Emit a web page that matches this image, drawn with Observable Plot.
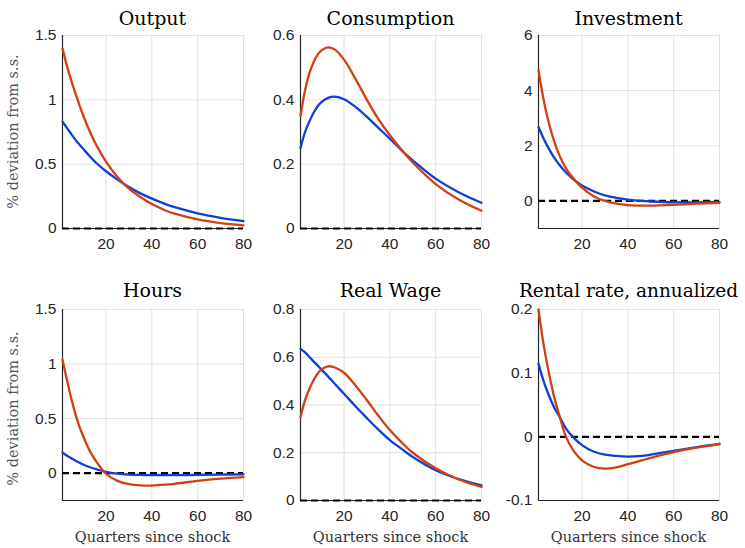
<!DOCTYPE html>
<html>
<head>
<meta charset="utf-8">
<script src="https://cdn.jsdelivr.net/npm/d3@7"></script>
<script src="https://cdn.jsdelivr.net/npm/@observablehq/plot@0.6"></script>
<style>
  html, body { margin: 0; padding: 0; background: #ffffff; }
  #root { position: relative; width: 745px; height: 548px; overflow: hidden; background: #ffffff; }
  #root svg { position: absolute; background: transparent; }
</style>
</head>
<body>
<div id="root"></div>
<script>
// ---------- data ----------
const quarters = [1, 3, 5, 8, 10, 13, 16, 20, 25, 30, 35, 40, 46, 50, 60, 70, 80];
const titles = ["Output", "Consumption", "Investment", "Hours", "Real Wage", "Rental rate, annualized"];

const outputBlue = [0.83, 0.78, 0.73, 0.66, 0.62, 0.56, 0.505, 0.445, 0.38, 0.322, 0.273, 0.232, 0.19, 0.166, 0.118, 0.083, 0.057];
const outputRed  = [1.40, 1.26, 1.14, 0.98, 0.88, 0.75, 0.64, 0.52, 0.40, 0.31, 0.245, 0.19, 0.14, 0.115, 0.07, 0.042, 0.025];

const consBlue = [0.25, 0.30, 0.335, 0.375, 0.392, 0.406, 0.41, 0.402, 0.378, 0.347, 0.313, 0.279, 0.237, 0.212, 0.155, 0.113, 0.08];
const consRed  = [0.35, 0.43, 0.485, 0.535, 0.553, 0.563, 0.556, 0.525, 0.465, 0.40, 0.34, 0.29, 0.237, 0.205, 0.138, 0.09, 0.055];

const invBlue = [2.68, 2.3, 1.97, 1.55, 1.32, 1.03, 0.8, 0.56, 0.35, 0.2, 0.11, 0.05, 0.0, -0.02, -0.05, -0.05, -0.04];
const invRed  = [4.75, 3.77, 3.0, 2.12, 1.68, 1.18, 0.84, 0.48, 0.17, 0.0, -0.1, -0.15, -0.17, -0.17, -0.14, -0.1, -0.07];

const hoursBlue = [0.19, 0.16, 0.135, 0.1, 0.08, 0.055, 0.035, 0.013, -0.003, -0.012, -0.016, -0.018, -0.018, -0.018, -0.016, -0.013, -0.01];
const hoursRed  = [1.04, 0.85, 0.67, 0.45, 0.34, 0.2, 0.1, -0.005, -0.07, -0.1, -0.112, -0.113, -0.105, -0.097, -0.07, -0.05, -0.036];

const wageBlue = [0.635, 0.62, 0.6, 0.57, 0.55, 0.52, 0.488, 0.447, 0.395, 0.345, 0.297, 0.253, 0.21, 0.182, 0.127, 0.09, 0.063];
const wageRed  = [0.35, 0.42, 0.47, 0.525, 0.548, 0.562, 0.557, 0.535, 0.482, 0.42, 0.355, 0.295, 0.235, 0.2, 0.135, 0.088, 0.057];

const rentBlue = [0.115, 0.09, 0.07, 0.045, 0.033, 0.013, 0.0, -0.013, -0.023, -0.028, -0.03, -0.031, -0.03, -0.028, -0.022, -0.016, -0.011];
const rentRed  = [0.2, 0.15, 0.11, 0.06, 0.035, 0.0, -0.02, -0.037, -0.047, -0.05, -0.048, -0.043, -0.037, -0.033, -0.024, -0.017, -0.012];

const yDomains = [[0, 1.5], [0, 0.6], [-1, 6], [-0.25, 1.5], [0, 0.8], [-0.1, 0.2]];
const yTicks = [[0, 0.5, 1, 1.5], [0, 0.2, 0.4, 0.6], [0, 2, 4, 6], [0, 0.5, 1, 1.5], [0, 0.2, 0.4, 0.6, 0.8], [-0.1, 0, 0.1, 0.2]];
const xTicks = [20, 40, 60, 80];
const blueSeries = [outputBlue, consBlue, invBlue, hoursBlue, wageBlue, rentBlue];
const redSeries = [outputRed, consRed, invRed, hoursRed, wageRed, rentRed];

const yLabel = "% deviation from s.s.";
const xLabel = "Quarters since shock";

// ---------- layout ----------
const BLUE = "#0f3fd6";
const RED = "#d24012";
const SERIF = "'DejaVu Serif', 'Liberation Serif', serif";
const colLeft = [61.5, 300, 538];
const plotW = 181;
const rowTop = [35, 309];
const rowH = [193, 191];
const ML = 60, MR = 28;
const svgTop = [0, 270];
const svgH = [270, 278];
const titleGap = [10, 12.5];

const root = document.getElementById("root");

for (let i = 0; i < 6; i++) {
  const r = Math.floor(i / 3), c = i % 3;
  const MT = rowTop[r] - svgTop[r];
  const MB = svgH[r] - MT - rowH[r];
  const data = quarters.map((q, k) => ({q, blue: blueSeries[i][k], red: redSeries[i][k]}));
  const [y0] = yDomains[i];
  const svg = Plot.plot({
    width: ML + plotW + MR,
    height: svgH[r],
    marginLeft: ML,
    marginRight: MR,
    marginTop: MT,
    marginBottom: MB,
    style: {background: "transparent", fontFamily: "'Liberation Sans', Arial, sans-serif", fontSize: "15.5px", color: "#262626", overflow: "visible"},
    x: {domain: [1, 80]},
    y: {domain: yDomains[i]},
    marks: [
      Plot.gridX(xTicks, {stroke: "#e0e0e0", strokeOpacity: 1, strokeWidth: 1}),
      Plot.gridY(yTicks[i], {stroke: "#e0e0e0", strokeOpacity: 1, strokeWidth: 1}),
      Plot.axisX(xTicks, {tickSize: 0, tickPadding: 9, label: null, tickFormat: d => String(d), fontSize: 15.5}),
      Plot.axisY(yTicks[i], {tickSize: 0, tickPadding: 6, label: null, tickFormat: d => String(d), fontSize: 15.5}),
      Plot.ruleX([1], {stroke: "#262626", strokeWidth: 1.2}),
      Plot.ruleY([y0], {stroke: "#262626", strokeWidth: 1.2}),
      Plot.ruleY([0], {stroke: "black", strokeWidth: 2.2, strokeDasharray: "7,4"}),
      Plot.lineY(data, {x: "q", y: "blue", stroke: BLUE, strokeWidth: 2.3, curve: "catmull-rom"}),
      Plot.lineY(data, {x: "q", y: "red", stroke: RED, strokeWidth: 2.3, curve: "catmull-rom"})
    ]
  });
  svg.style.left = (colLeft[c] - ML) + "px";
  svg.style.top = svgTop[r] + "px";
  svg.style.maxWidth = "none";
  const s = d3.select(svg);
  s.append("text")
    .attr("x", ML + plotW / 2)
    .attr("y", MT - titleGap[r])
    .attr("text-anchor", "middle")
    .style("font-family", SERIF)
    .style("font-size", i === 5 ? "18.5px" : "19px")
    .attr("fill", "#000")
    .text(titles[i]);
  if (c === 0) {
    s.append("text")
      .attr("transform", `translate(${ML - 44},${MT + rowH[r] / 2 + (r === 1 ? 4 : 0)}) rotate(-90)`)
      .attr("text-anchor", "middle")
      .style("font-family", SERIF)
      .style("font-size", "14.5px")
      .attr("fill", "#555")
      .text(yLabel);
  }
  if (r === 1) {
    s.append("text")
      .attr("x", ML + plotW / 2)
      .attr("y", MT + rowH[r] + 42)
      .attr("text-anchor", "middle")
      .style("font-family", SERIF)
      .style("font-size", "14.5px")
      .attr("fill", "#333")
      .text(xLabel);
  }
  root.appendChild(svg);
}
</script>
</body>
</html>
